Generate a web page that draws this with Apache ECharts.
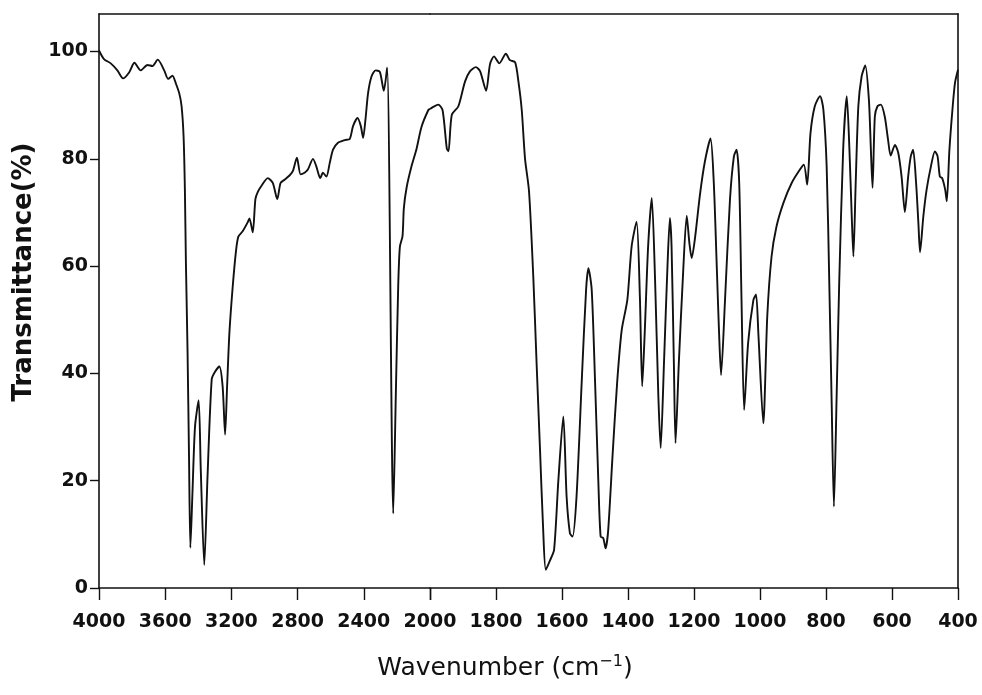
<!DOCTYPE html>
<html>
<head>
<meta charset="utf-8">
<script src="https://cdn.jsdelivr.net/npm/echarts@6/dist/echarts.min.js"></script>
<style>
  html, body { margin: 0; padding: 0; background: #fff; }
  #spectrum { width: 982px; height: 695px; }
</style>
</head>
<body>
<div id="spectrum"></div>
<script>
// IR spectrum (wavenumber in cm-1, transmittance in %)
let wavenumber = [
  4000, 3970, 3929, 3889, 3855, 3818, 3786, 3748, 3707, 3677, 3645, 3606, 3582, 3556, 3535, 3515,
  3501, 3489, 3481, 3475, 3465, 3456, 3448, 3435, 3420, 3398, 3385, 3364, 3344, 3319, 3299, 3273,
  3253, 3238, 3226, 3212, 3192, 3172, 3158, 3132, 3101, 3091, 3071, 3055, 3041, 3020, 2980, 2950,
  2923, 2903, 2879, 2849, 2829, 2804, 2782, 2758, 2738, 2707, 2687, 2663, 2647, 2626, 2606, 2586,
  2556, 2515, 2485, 2465, 2438, 2418, 2404, 2390, 2374, 2353, 2329, 2303, 2279, 2259, 2222, 2206,
  2192, 2182, 2166, 2158, 2141, 2111, 2081, 2052, 2010, 2000, 1990, 1975, 1962, 1949, 1944, 1934,
  1914, 1894, 1879, 1861, 1848, 1830, 1818, 1806, 1790, 1770, 1758, 1742, 1732, 1722, 1712, 1700,
  1687, 1677, 1667, 1657, 1649, 1636, 1624, 1611, 1596, 1586, 1576, 1568, 1556, 1540, 1527, 1520,
  1510, 1500, 1490, 1483, 1475, 1468, 1460, 1447, 1433, 1419, 1402, 1389, 1374, 1364, 1357, 1349,
  1339, 1328, 1318, 1308, 1301, 1291, 1280, 1273, 1268, 1261, 1256, 1246, 1234, 1222, 1214, 1207,
  1197, 1182, 1167, 1150, 1140, 1131, 1124, 1118, 1106, 1091, 1079, 1071, 1063, 1056, 1048, 1036,
  1020, 1012, 1005, 990, 978, 965, 950, 929, 904, 879, 867, 857, 847, 834, 818, 808,
  798, 790, 783, 776, 768, 760, 748, 737, 729, 722, 717, 710, 702, 692, 681, 670,
  664, 659, 652, 644, 634, 622, 612, 604, 591, 581, 571, 561, 551, 543, 536, 527,
  520, 515, 505, 495, 482, 470, 462, 455, 448, 439, 434, 426, 416, 409, 400
];
let transmittance = [
  100.2, 98.6, 97.8, 96.5, 95.0, 96.1, 97.9, 96.5, 97.5, 97.3, 98.5, 96.5, 94.9, 95.5, 94.0, 92.2,
  89.8, 84.2, 74.2, 60.9, 44.2, 24.3, 7.5, 18, 30, 35, 22, 4.3, 21, 38.9, 40.3, 41.3,
  37.6, 28.6, 37.6, 47.6, 56.2, 62.9, 65.5, 66.5, 68.2, 68.9, 66.3, 72.5, 73.8, 74.9, 76.4, 75.5,
  72.5, 75.5, 76.1, 76.9, 77.7, 80.2, 77.1, 77.4, 78.0, 80.0, 78.6, 76.4, 77.4, 76.7, 79.2, 81.7,
  83.0, 83.5, 83.7, 86.1, 87.6, 86.1, 83.9, 87.3, 92.3, 95.4, 96.5, 96.2, 92.7, 97.0, 13.9, 36.8,
  56.4, 63.6, 65.6, 70.8, 74.7, 78.7, 81.9, 85.9, 89.1, 89.3, 89.7, 90.1, 89.1, 81.9, 81.4, 88.2,
  89.8, 94.4, 96.3, 97.1, 96.3, 92.7, 97.7, 99.1, 97.8, 99.6, 98.4, 98.0, 94.4, 89.1, 80.0, 74.0,
  58.0, 41.9, 26.4, 10.8, 3.4, 5.2, 7.1, 20.1, 32.0, 17.0, 10.2, 9.6, 17.0, 38.8, 55.6, 59.6,
  55.6, 38.8, 20.1, 9.6, 9.3, 7.4, 10.8, 24.5, 38.2, 48.1, 53.7, 63.7, 68.3, 54.3, 37.6, 48.1,
  63.7, 72.7, 57.5, 35.7, 26.1, 41.9, 60.6, 69.0, 63.7, 41.9, 27.0, 41.9, 57.5, 69.4, 64.3, 61.5,
  65.2, 73.3, 79.5, 83.8, 75.5, 59.9, 47.5, 39.7, 53.7, 72.4, 80.5, 81.7, 75.5, 53.7, 33.2, 45.7,
  53.7, 54.7, 47.5, 30.7, 50.6, 61.8, 67.4, 71.8, 75.5, 78.0, 78.9, 75.2, 84.8, 89.8, 91.7, 89.2,
  78.6, 56.8, 35.1, 15.2, 35.1, 56.8, 81.7, 91.7, 81.7, 69.3, 61.8, 75.5, 89.8, 95.4, 97.4, 91.0,
  81.7, 74.6, 87.9, 89.8, 90.1, 87.9, 83.6, 80.6, 82.6, 81.1, 76.7, 70.1, 76.7, 80.5, 81.7, 75.5,
  68.0, 62.6, 69.3, 74.3, 78.6, 81.4, 80.5, 76.7, 76.4, 74.3, 72.1, 81.7, 89.8, 94.2, 96.6
];

// the x scale changes at 2000 cm-1: 400 per division above, 200 per division below
let breakAt = 2000;
let highTicks = [4000, 3600, 3200, 2800, 2400, 2000];
let lowTicks = [2000, 1800, 1600, 1400, 1200, 1000, 800, 600, 400];

let highPart = [];
let lowPart = [];
for (let i = 0; i < wavenumber.length; i++) {
  if (wavenumber[i] >= breakAt) highPart.push([wavenumber[i], transmittance[i]]);
  if (wavenumber[i] <= breakAt) lowPart.push([wavenumber[i], transmittance[i]]);
}

let font = 'DejaVu Sans';
let ink = '#111';

let labelStyle = {
  color: ink,
  fontFamily: font,
  fontWeight: 'bold',
  fontSize: 19
};

function bottomAxis(grid, lo, hi, step, hideValue) {
  return {
    type: 'value',
    gridIndex: grid,
    position: 'bottom',
    min: lo,
    max: hi,
    interval: step,
    inverse: true,
    axisLine: { show: true, onZero: false, lineStyle: { color: ink, width: 1.6 } },
    axisTick: { show: true, inside: false, length: 12, lineStyle: { color: ink, width: 1.4 } },
    axisLabel: Object.assign({}, labelStyle, {
      margin: 25,
      formatter: function (v) { return v === hideValue ? '' : String(v); }
    }),
    splitLine: { show: false }
  };
}

function frameAxis(grid, lo, hi) {
  return {
    type: 'value',
    gridIndex: grid,
    position: 'top',
    min: lo,
    max: hi,
    inverse: true,
    axisLine: { show: true, onZero: false, lineStyle: { color: ink, width: 1.6 } },
    axisTick: { show: false },
    axisLabel: { show: false },
    splitLine: { show: false }
  };
}

let chartDom = document.getElementById('spectrum');
let irChart = echarts.init(chartDom, null, { renderer: 'canvas' });

let option = {
  backgroundColor: '#fff',
  animation: false,
  title: {
    text: 'Wavenumber (cm{sup|−1})',
    left: 500,
    top: 649,
    textAlign: 'center',
    textStyle: {
      color: ink,
      fontFamily: font,
      fontSize: 25,
      fontWeight: 'normal',
      rich: {
        sup: { fontFamily: font, fontSize: 16, color: ink, verticalAlign: 'top', padding: [0, 0, 13, 0] }
      }
    }
  },
  grid: [
    { left: 99, top: 14, width: 331, height: 574 },
    { left: 430, top: 14, width: 528, height: 574 }
  ],
  xAxis: [
    bottomAxis(0, breakAt, highTicks[0], 400, null),
    bottomAxis(1, lowTicks[lowTicks.length - 1], breakAt, 200, breakAt),
    frameAxis(0, breakAt, highTicks[0]),
    frameAxis(1, lowTicks[lowTicks.length - 1], breakAt)
  ],
  yAxis: [
    {
      type: 'value',
      gridIndex: 0,
      position: 'left',
      min: 0,
      max: 107,
      interval: 20,
      name: 'Transmittance(%)',
      nameLocation: 'middle',
      nameGap: 62,
      nameTextStyle: { color: ink, fontFamily: font, fontSize: 26, fontWeight: 'bold', padding: [0, 0, 0, 58] },
      axisLine: { show: true, lineStyle: { color: ink, width: 1.6 } },
      axisTick: { show: true, length: 9, lineStyle: { color: ink, width: 1.4 } },
      axisLabel: Object.assign({}, labelStyle, {
        margin: 11,
        showMaxLabel: false,
        formatter: function (v) { return v % 20 === 0 ? String(v) : ''; }
      }),
      splitLine: { show: false }
    },
    {
      type: 'value',
      gridIndex: 1,
      position: 'right',
      min: 0,
      max: 107,
      axisLine: { show: true, lineStyle: { color: ink, width: 1.6 } },
      axisTick: { show: false },
      axisLabel: { show: false },
      splitLine: { show: false }
    }
  ],
  series: [
    {
      name: 'high',
      type: 'line',
      xAxisIndex: 0,
      yAxisIndex: 0,
      data: highPart,
      showSymbol: false,
      smooth: 0.25,
      lineStyle: { color: ink, width: 1.9 }
    },
    {
      name: 'low',
      type: 'line',
      xAxisIndex: 1,
      yAxisIndex: 1,
      data: lowPart,
      showSymbol: false,
      smooth: 0.25,
      lineStyle: { color: ink, width: 1.9 }
    }
  ]
};

option && irChart.setOption(option);
</script>
</body>
</html>
